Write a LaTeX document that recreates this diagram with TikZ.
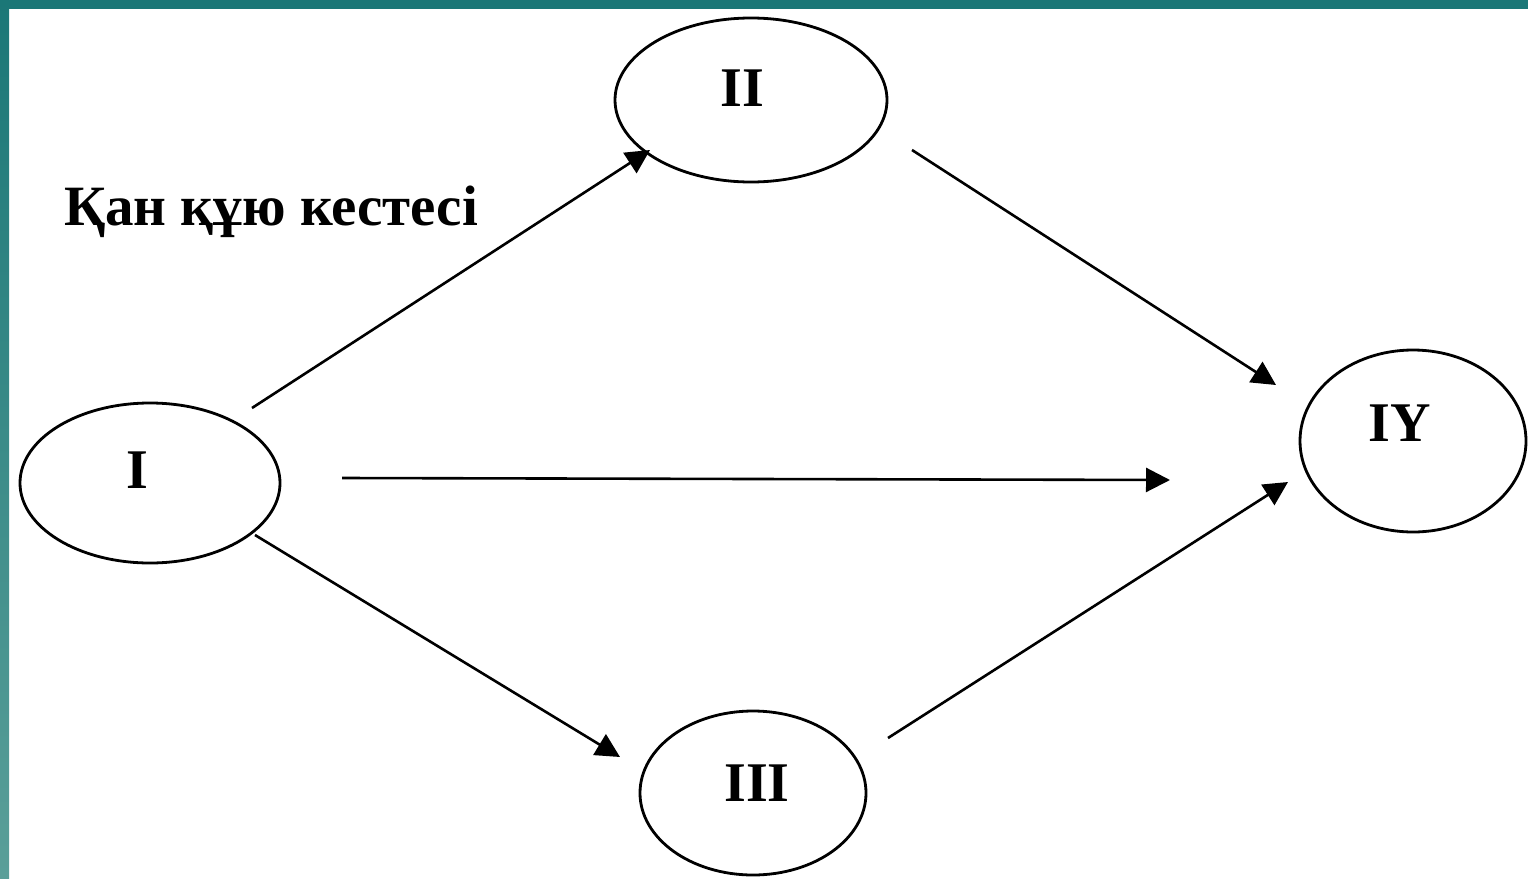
\documentclass[tikz,border=0pt]{standalone}
\usepackage{fontspec}
\setmainfont{Liberation Serif}
\usetikzlibrary{arrows.meta}
\definecolor{tealtop}{HTML}{1B7777}
\definecolor{tealbot}{HTML}{5A9F99}
\begin{document}
\begin{tikzpicture}[x=1pt,y=-1pt,
  numlabel/.style={font=\fontsize{56}{56}\selectfont\bfseries},
  ovalline/.style={line width=2.8pt},
  conn/.style={line width=2.6pt,-{Triangle[length=24pt,width=24pt]}}]
\useasboundingbox (0,0) rectangle (1528,878);
\fill[white] (0,0) rectangle (1528,878);
\fill[tealtop] (0,0) rectangle (1528,9);
\shade[top color=tealtop,bottom color=tealbot] (0,0) rectangle (9,878);
% ellipses
\draw[ovalline] (150,483) ellipse [x radius=130,y radius=80];
\draw[ovalline] (751,100) ellipse [x radius=136,y radius=82];
\draw[ovalline] (753,793) ellipse [x radius=113,y radius=82];
\draw[ovalline] (1413,441) ellipse [x radius=113,y radius=91];
\node[numlabel] (n1) at (137,470) {I};
\node[numlabel] (n2) at (742,88) {II};
\node[numlabel] (n3) at (757,783) {III};
\node[numlabel] (n4) at (1400,423) {IY};
\node[font=\fontsize{57}{57}\selectfont\bfseries] (title) at (271,212) {Қан құю кестесі};
% connectors
\coordinate (a1) at (252,408); \coordinate (b1) at (650,150);
\coordinate (a2) at (342,478); \coordinate (b2) at (1170,480);
\coordinate (a3) at (255,535); \coordinate (b3) at (620,757);
\coordinate (a4) at (912,150); \coordinate (b4) at (1276,385);
\coordinate (a5) at (888,738); \coordinate (b5) at (1288,482);
\draw[conn] (a1) -- (b1);
\draw[conn] (a2) -- (b2);
\draw[conn] (a3) -- (b3);
\draw[conn] (a4) -- (b4);
\draw[conn] (a5) -- (b5);
\end{tikzpicture}
\end{document}
